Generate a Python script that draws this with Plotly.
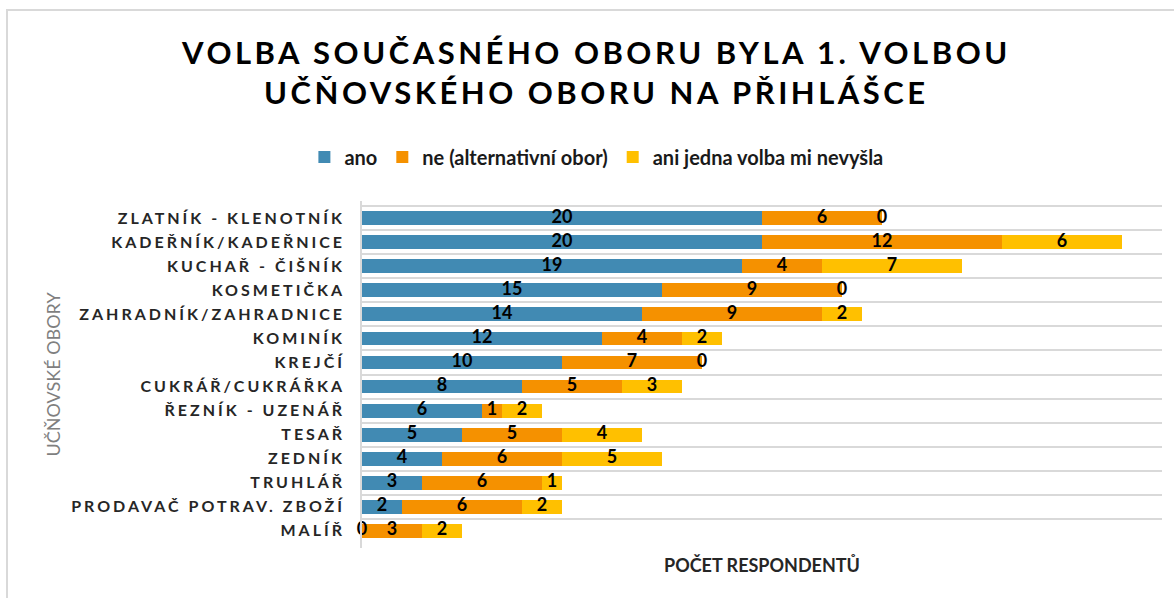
import plotly.graph_objects as go

categories = [
    "ZLATNÍK - KLENOTNÍK",
    "KADEŘNÍK/KADEŘNICE",
    "KUCHAŘ - ČIŠNÍK",
    "KOSMETIČKA",
    "ZAHRADNÍK/ZAHRADNICE",
    "KOMINÍK",
    "KREJČÍ",
    "CUKRÁŘ/CUKRÁŘKA",
    "ŘEZNÍK - UZENÁŘ",
    "TESAŘ",
    "ZEDNÍK",
    "TRUHLÁŘ",
    "PRODAVAČ POTRAV. ZBOŽÍ",
    "MALÍŘ",
]
ano = [20, 20, 19, 15, 14, 12, 10, 8, 6, 5, 4, 3, 2, 0]
ne_alt = [6, 12, 4, 9, 9, 4, 7, 5, 1, 5, 6, 6, 6, 3]
ani_jedna = [0, 6, 7, 0, 2, 2, 0, 3, 2, 4, 5, 1, 2, 2]

series_names = ["ano", "ne (alternativní obor)", "ani jedna volba mi nevyšla"]
series_values = [ano, ne_alt, ani_jedna]
series_colors = ["#418AB3", "#F59100", "#FFC000"]

title_text = "VOLBA SOUČASNÉHO OBORU BYLA 1. VOLBOU<br>UČŇOVSKÉHO OBORU NA PŘIHLÁŠCE"
y_title = "UČŇOVSKÉ OBORY"
x_title = "POČET RESPONDENTŮ"

FONT = "Lato"
fig = go.Figure()

base = [0] * len(categories)
label_x, label_y, label_t = [], [], []
for name, vals, col in zip(series_names, series_values, series_colors):
    fig.add_trace(go.Bar(
        y=categories, x=vals, name=name, orientation="h",
        marker=dict(color=col, line=dict(width=0)),
        hoverinfo="x+name",
    ))
    for i, v in enumerate(vals):
        label_x.append(base[i] + v / 2)
        label_y.append(categories[i])
        label_t.append(str(v))
        base[i] += v

fig.add_trace(go.Scatter(
    x=label_x, y=label_y, text=label_t, mode="text",
    textposition="middle center",
    textfont=dict(family=FONT, size=18, color="#000000", weight="bold"),
    showlegend=False, hoverinfo="skip", cliponaxis=False,
))

W, H = 1174, 598
L, R, T, B = 362, 12, 201, 50
pw, ph = W - L - R, H - T - B

def px_x(p):
    return (p - L) / pw

def px_y(p):
    return (H - B - p) / ph

fig.update_layout(
    width=W, height=H,
    margin=dict(l=L, r=R, t=T, b=B, autoexpand=False),
    paper_bgcolor="white", plot_bgcolor="white",
    barmode="stack", bargap=0.42,
    title=dict(
        text=title_text, x=0.508, xref="container", xanchor="center",
        y=1 - 64 / H, yref="container", yanchor="middle",
        font=dict(family=FONT, size=31, color="#000000", weight="bold"),
    ),
    legend=dict(
        orientation="h", xref="container", yref="container",
        x=0.508, xanchor="center", y=1 - 157 / H, yanchor="middle",
        font=dict(family=FONT, size=20, color="#1a1a1a", weight="bold"),
        itemwidth=30, traceorder="normal",
    ),
    xaxis=dict(
        range=[0, 40], showgrid=False, zeroline=False,
        showticklabels=False, ticks="", showline=False, fixedrange=True,
    ),
    yaxis=dict(
        type="category", autorange="reversed", tickson="boundaries",
        showgrid=True, gridcolor="#D9D9D9", gridwidth=1.5,
        showline=True, linecolor="#D9D9D9", linewidth=1.5,
        ticks="", ticklabelstandoff=12,
        tickfont=dict(family=FONT, size=16, color="#262626", weight="bold"),
    ),
    annotations=[
        dict(text=y_title, textangle=-90, xref="paper", yref="paper",
             x=px_x(52), y=0.5, showarrow=False, xanchor="center", yanchor="middle",
             font=dict(family=FONT, size=18, color="#7F7F7F")),
        dict(text=x_title, xref="paper", yref="paper",
             x=0.5, y=px_y(565), showarrow=False, xanchor="center", yanchor="middle",
             font=dict(family=FONT, size=18, color="#262626", weight="bold")),
    ],
    shapes=[
        dict(type="line", xref="paper", yref="paper",
             x0=px_x(6), x1=px_x(W + 5), y0=px_y(10), y1=px_y(10),
             line=dict(color="#D9D9D9", width=2)),
        dict(type="line", xref="paper", yref="paper",
             x0=px_x(7), x1=px_x(7), y0=px_y(10), y1=px_y(H + 5),
             line=dict(color="#D9D9D9", width=2)),
    ],
)

post = """
document.body.style.margin = '0';
document.body.style.overflow = 'hidden';
var gd = document.getElementById('{plot_id}');
function spacing(){
  gd.querySelectorAll('.ytick text').forEach(function(t){ t.style.letterSpacing = '3px'; });
  gd.querySelectorAll('.gtitle').forEach(function(t){ t.style.letterSpacing = '3.5px'; });
}
spacing();
if (gd.on) { gd.on('plotly_afterplot', spacing); }
"""

fig.write_html("out.html", post_script=post, config={"displayModeBar": False})
